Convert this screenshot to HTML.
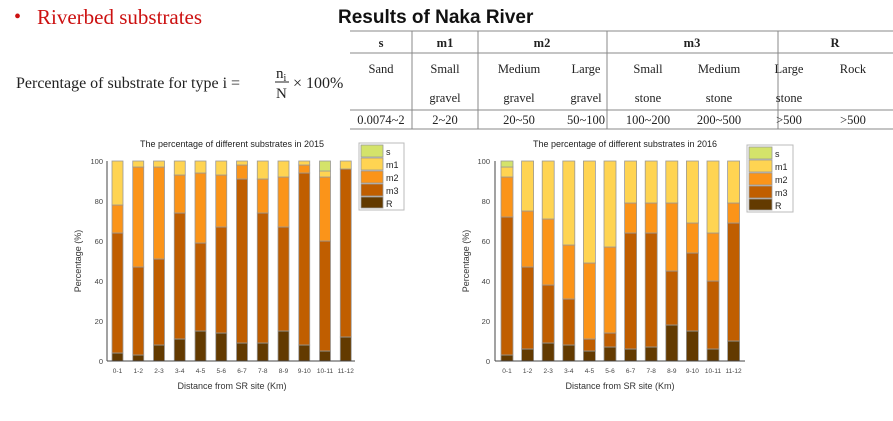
<!DOCTYPE html>
<html><head><meta charset="utf-8"><style>
body{margin:0;background:#fff;width:893px;height:416px;overflow:hidden}
svg{font-family:"Liberation Sans",sans-serif}
.sf,.sf text{font-family:"Liberation Serif",serif}
.b rect{stroke:#999;stroke-width:0.8}
</style></head><body>
<svg width="893" height="416" xmlns="http://www.w3.org/2000/svg">
<text x="14" y="23" class="sf" font-size="20" fill="#cc1111">•</text>
<text x="37" y="24" class="sf" font-size="21" fill="#cc1111">Riverbed substrates</text>
<text x="16" y="88" class="sf" font-size="16" fill="#222">Percentage of  substrate for type i =</text>
<text x="276" y="78" class="sf" font-size="15" fill="#222">n<tspan font-size="10" dy="3">i</tspan></text>
<line x1="275" y1="82" x2="289" y2="82" stroke="#222" stroke-width="1"/>
<text x="276" y="98" class="sf" font-size="15" fill="#222">N</text>
<text x="293" y="88" class="sf" font-size="16" fill="#222">× 100%</text>
<text x="338" y="23" font-size="19" font-weight="bold" fill="#111">Results of Naka River</text>
<g stroke="#888" stroke-width="1">
<line x1="350" y1="31" x2="893" y2="31"/><line x1="350" y1="53" x2="893" y2="53"/>
<line x1="350" y1="110" x2="893" y2="110"/><line x1="350" y1="129" x2="893" y2="129"/>
<line x1="412" y1="31" x2="412" y2="129"/><line x1="478" y1="31" x2="478" y2="129"/>
<line x1="607" y1="31" x2="607" y2="129"/><line x1="778" y1="31" x2="778" y2="129"/>
</g>
<g class="sf" font-size="12.5" fill="#222" text-anchor="middle">
<text x="381" y="47" font-weight="bold">s</text><text x="445" y="47" font-weight="bold">m1</text>
<text x="542" y="47" font-weight="bold">m2</text><text x="692" y="47" font-weight="bold">m3</text>
<text x="835" y="47" font-weight="bold">R</text>
<text x="381" y="73">Sand</text><text x="445" y="73">Small</text><text x="445" y="102">gravel</text>
<text x="519" y="73">Medium</text><text x="519" y="102">gravel</text>
<text x="586" y="73">Large</text><text x="586" y="102">gravel</text>
<text x="648" y="73">Small</text><text x="648" y="102">stone</text>
<text x="719" y="73">Medium</text><text x="719" y="102">stone</text>
<text x="789" y="73">Large</text><text x="789" y="102">stone</text>
<text x="853" y="73">Rock</text>
<text x="381" y="124">0.0074~2</text><text x="445" y="124">2~20</text><text x="519" y="124">20~50</text>
<text x="586" y="124">50~100</text><text x="648" y="124">100~200</text><text x="719" y="124">200~500</text>
<text x="789" y="124">&gt;500</text><text x="853" y="124">&gt;500</text>
</g>
<text x="232" y="147" font-size="9" text-anchor="middle" fill="#222">The percentage of different substrates in 2015</text>
<g class="b" id="c1"></g>
<g stroke="#444" stroke-width="1"><line x1="107" y1="161" x2="107" y2="361"/><line x1="107" y1="361" x2="355" y2="361"/></g>
<g font-size="7.5" fill="#444" text-anchor="end">
<text x="103" y="164">100</text><text x="103" y="204">80</text><text x="103" y="244">60</text><text x="103" y="284">40</text><text x="103" y="324">20</text><text x="103" y="364">0</text></g>
<text transform="translate(81,261) rotate(-90)" font-size="9" text-anchor="middle" fill="#333">Percentage (%)</text>
<g font-size="6.5" fill="#444" text-anchor="middle" id="x1"></g>
<text x="232" y="389" font-size="9" text-anchor="middle" fill="#333">Distance from SR site (Km)</text>
<text x="625" y="147" font-size="9" text-anchor="middle" fill="#222">The percentage of different substrates in 2016</text>
<g class="b" id="c2"></g>
<g stroke="#444" stroke-width="1"><line x1="495" y1="161" x2="495" y2="361"/><line x1="495" y1="361" x2="745" y2="361"/></g>
<g font-size="7.5" fill="#444" text-anchor="end">
<text x="490" y="164">100</text><text x="490" y="204">80</text><text x="490" y="244">60</text><text x="490" y="284">40</text><text x="490" y="324">20</text><text x="490" y="364">0</text></g>
<text transform="translate(469,261) rotate(-90)" font-size="9" text-anchor="middle" fill="#333">Percentage (%)</text>
<g font-size="6.5" fill="#444" text-anchor="middle" id="x2"></g>
<text x="620" y="389" font-size="9" text-anchor="middle" fill="#333">Distance from SR site (Km)</text>
<rect x="359" y="143" width="45" height="67" fill="#fff" stroke="#bbb"/>
<g stroke="#999" stroke-width="0.8">
<rect x="361" y="145" width="22" height="12" fill="#d4e36a"/><rect x="361" y="158" width="22" height="12" fill="#ffd452"/>
<rect x="361" y="171" width="22" height="12" fill="#fb9419"/><rect x="361" y="184" width="22" height="12" fill="#c05e00"/>
<rect x="361" y="197" width="22" height="11" fill="#633a00"/></g>
<g font-size="9" fill="#222"><text x="386" y="155">s</text><text x="386" y="168">m1</text><text x="386" y="181">m2</text><text x="386" y="194">m3</text><text x="386" y="207">R</text></g>
<rect x="747" y="145" width="46" height="67" fill="#fff" stroke="#bbb"/>
<g stroke="#999" stroke-width="0.8">
<rect x="749" y="147" width="23" height="12" fill="#d4e36a"/><rect x="749" y="160" width="23" height="12" fill="#ffd452"/>
<rect x="749" y="173" width="23" height="12" fill="#fb9419"/><rect x="749" y="186" width="23" height="12" fill="#c05e00"/>
<rect x="749" y="199" width="23" height="11" fill="#633a00"/></g>
<g font-size="9" fill="#222"><text x="775" y="157">s</text><text x="775" y="170">m1</text><text x="775" y="183">m2</text><text x="775" y="196">m3</text><text x="775" y="209">R</text></g>
</svg>
<script>
var L=["0-1","1-2","2-3","3-4","4-5","5-6","6-7","7-8","8-9","9-10","10-11","11-12"];
var C=["#633a00","#c05e00","#fb9419","#ffd452","#d4e36a"];
var d1=[[4,64,78,100,100],[3,47,97,100,100],[8,51,97,100,100],[11,74,93,100,100],[15,59,94,100,100],[14,67,93,100,100],[9,91,98,100,100],[9,74,91,100,100],[15,67,92,100,100],[8,94,98,100,100],[5,60,92,95,100],[12,96,96,100,100]];
var d2=[[3,72,92,97,100],[6,47,75,100,100],[9,38,71,100,100],[8,31,58,100,100],[5,11,49,100,100],[7,14,57,100,100],[6,64,79,100,100],[7,64,79,100,100],[18,45,79,100,100],[15,54,69,100,100],[6,40,64,100,100],[10,69,79,100,100]];
function draw(id,xid,d,x0,p,w){var g=document.getElementById(id),s="",t="";
d.forEach(function(b,i){var x=x0+i*p;var prev=0;
for(var k=0;k<5;k++){var h=b[k]-prev;if(h>0){s+='<rect x="'+x+'" y="'+(361-2*b[k])+'" width="'+w+'" height="'+(2*h)+'" fill="'+C[k]+'"/>';}prev=b[k];}
t+='<text x="'+(x+w/2)+'" y="373">'+L[i]+'</text>';});
g.innerHTML=s;document.getElementById(xid).innerHTML=t;}
draw("c1","x1",d1,112,20.75,11);draw("c2","x2",d2,501,20.6,12);
</script>
</body></html>
